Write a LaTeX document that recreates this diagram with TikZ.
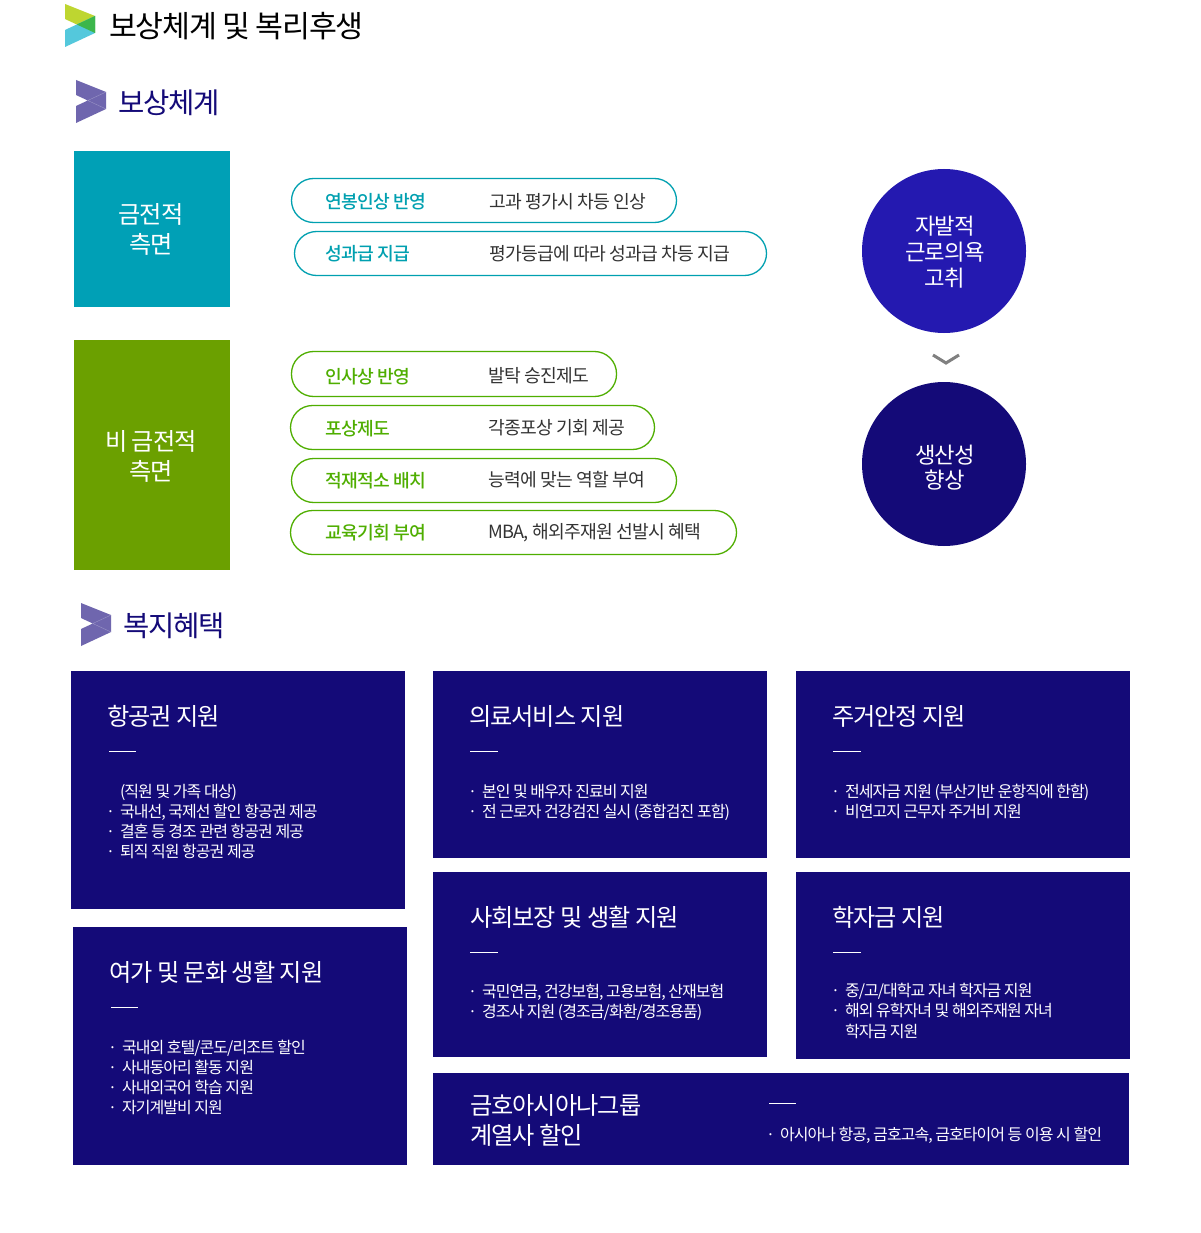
\documentclass[tikz,border=0pt]{standalone}
\usepackage{fontspec}
\newfontfamily\kr[LetterSpace=-4]{Noto Sans CJK KR}
\newfontfamily\krt[LetterSpace=-6]{Noto Sans CJK KR}
\newfontfamily\krm[LetterSpace=-4]{Noto Sans CJK KR Medium}
\definecolor{navy}{HTML}{140A78}
\definecolor{royal}{HTML}{2419B0}
\definecolor{teal}{HTML}{00A0B6}
\definecolor{leaf}{HTML}{6BA000}
\definecolor{tealtx}{HTML}{00A0B0}
\definecolor{leaftx}{HTML}{4FAE00}
\definecolor{purp}{HTML}{6F66AE}
\definecolor{dark}{HTML}{333333}
\tikzset{
  lbl/.style={inner sep=0pt,outer sep=0pt,anchor=base west},
  ctr/.style={inner sep=0pt,outer sep=0pt,anchor=base,white,font=\kr\fontsize{24.2}{24}\selectfont},
  ctrc/.style={inner sep=0pt,outer sep=0pt,anchor=base,white,font=\kr\fontsize{22.3}{22}\selectfont},
  head/.style={lbl,font=\kr\fontsize{28.6}{28}\selectfont},
  headbig/.style={lbl,font=\kr\fontsize{30.3}{30}\selectfont},
  boxtitle/.style={lbl,white,font=\kr\fontsize{24.2}{24}\selectfont},
  item/.style={lbl,white,font=\krt\fontsize{16}{16}\selectfont},
  pillkey/.style={lbl,font=\krm\fontsize{18.2}{18}\selectfont},
  pillval/.style={lbl,dark,font=\kr\fontsize{18.2}{18}\selectfont},
  pilla/.style={draw=tealtx,line width=1.3pt,fill=white,rounded corners=22pt},
  pillb/.style={draw=leaftx,line width=1.3pt,fill=white,rounded corners=22pt},
  bluebox/.style={fill=navy},
  rule/.style={draw=white,line width=1pt},
}
\newcommand{\bul}[3]{\node[item] (#1) at (#2,#3) {·};}
\begin{document}
\begin{tikzpicture}[x=1pt,y=-1pt]
\useasboundingbox (0,0) rectangle (1200,1233);
% logo
\fill[fill=white] (0,0) rectangle (1200,1233);
\fill[color={rgb,255:red,190;green,214;blue,48}] (65,4) -- (95,16) -- (95,33) -- (65,19) -- cycle;
\fill[color={rgb,255:red,84;green,200;blue,220}] (65,30) -- (95,16) -- (95,33) -- (65,47) -- cycle;
\fill[color={rgb,255:red,60;green,182;blue,75}] (76.8,24.5) -- (95,16) -- (95,33) -- cycle;
\node[headbig,black] (title) at (109,37.7) {보상체계 및 복리후생};
% section marks
\foreach \dx/\dy in {11/76,16/599}{
  \begin{scope}[shift={(\dx,\dy)}]
  \fill[purp] (65,4) -- (95,16) -- (95,33) -- (65,47) -- (65,30) -- (76.8,24.5) -- (65,19) -- cycle;
  \draw[purp!70!white,line width=.4pt] (76.8,24.5) -- (95,16) (76.8,24.5) -- (95,33);
  \end{scope}
}
\node[head,navy] (sec1) at (118,113.5) {보상체계};
\node[head,navy] (sec2) at (123,636) {복지혜택};
% side blocks
\fill[teal] (74,151) rectangle (230,307);
\fill[leaf] (74,340) rectangle (230,570);
\node[ctr] (a1) at (151,224) {금전적};
\node[ctr] (a2) at (151,254) {측면};
\node[ctr] (b1) at (151,450) {비 금전적};
\node[ctr] (b2) at (151,480.5) {측면};
% pills
\draw[pilla] (291.5,178.5) rectangle (676.5,222.5);
\draw[pilla] (294.5,231.5) rectangle (766.5,275.5);
\draw[pillb] (291.5,351.5) rectangle (616.5,396.5);
\draw[pillb] (290.5,405.5) rectangle (654.5,449.5);
\draw[pillb] (291.5,458.5) rectangle (676.5,502.5);
\draw[pillb] (290.5,510.5) rectangle (736.5,554.5);
\node[pillkey,tealtx] (k1) at (325,209) {연봉인상 반영};
\node[pillval] (v1) at (489,209) {고과 평가시 차등 인상};
\node[pillkey,tealtx] (k2) at (325,261) {성과급 지급};
\node[pillval] (v2) at (489,261) {평가등급에 따라 성과급 차등 지급};
\node[pillkey,leaftx] (k3) at (325,383) {인사상 반영};
\node[pillval] (v3) at (488,382) {발탁 승진제도};
\node[pillkey,leaftx] (k4) at (325,435) {포상제도};
\node[pillval] (v4) at (488,434) {각종포상 기회 제공};
\node[pillkey,leaftx] (k5) at (325,487) {적재적소 배치};
\node[pillval] (v5) at (488,486) {능력에 맞는 역할 부여};
\node[pillkey,leaftx] (k6) at (325,539) {교육기회 부여};
\node[pillval] (v6) at (488,538) {MBA, 해외주재원 선발시 혜택};
% circles
\fill[royal] (944,251) circle (82);
\fill[navy] (944,464) circle (82);
\node[ctrc] (c1) at (945,235) {자발적};
\node[ctrc] (c2) at (945,260) {근로의욕};
\node[ctrc] (c3) at (945,286) {고취};
\node[ctrc] (d1) at (945,463) {생산성};
\node[ctrc] (d2) at (945,488.5) {향상};
\draw[color=gray,line width=3pt] (933,355) -- (946,363) -- (959,355);
% boxes
\fill[bluebox] (71,671) rectangle (405,909);
\fill[bluebox] (73,927) rectangle (407,1165);
\fill[bluebox] (433,671) rectangle (767,858);
\fill[bluebox] (796,671) rectangle (1130,858);
\fill[bluebox] (433,872) rectangle (767,1057);
\fill[bluebox] (796,872) rectangle (1130,1059);
\fill[bluebox] (433,1073) rectangle (1129,1165);
% box 1
\node[boxtitle] (t1) at (107,725) {항공권 지원};
\draw[rule] (109,751) -- (136,751);
\node[item] (l11) at (120,797) {(직원 및 가족 대상)};
\bul{p12}{106}{817}\node[item] (l12) at (120,817) {국내선, 국제선 할인 항공권 제공};
\bul{p13}{106}{837}\node[item] (l13) at (120,837) {결혼 등 경조 관련 항공권 제공};
\bul{p14}{106}{857}\node[item] (l14) at (120,857) {퇴직 직원 항공권 제공};
% box 2
\node[boxtitle] (t2) at (109,981) {여가 및 문화 생활 지원};
\draw[rule] (111,1007) -- (138,1007);
\bul{p21}{108}{1053}\node[item] (l21) at (122,1053) {국내외 호텔/콘도/리조트 할인};
\bul{p22}{108}{1073}\node[item] (l22) at (122,1073) {사내동아리 활동 지원};
\bul{p23}{108}{1093}\node[item] (l23) at (122,1093) {사내외국어 학습 지원};
\bul{p24}{108}{1113}\node[item] (l24) at (122,1113) {자기계발비 지원};
% box 3
\node[boxtitle] (t3) at (469,725) {의료서비스 지원};
\draw[rule] (470,751) -- (498,751);
\bul{p31}{468}{797}\node[item] (l31) at (482,797) {본인 및 배우자 진료비 지원};
\bul{p32}{468}{817}\node[item] (l32) at (482,817) {전 근로자 건강검진 실시 (종합검진 포함)};
% box 4
\node[boxtitle] (t4) at (832,725) {주거안정 지원};
\draw[rule] (833,751) -- (861,751);
\bul{p41}{831}{797}\node[item] (l41) at (845,797) {전세자금 지원 (부산기반 운항직에 한함)};
\bul{p42}{831}{817}\node[item] (l42) at (845,817) {비연고지 근무자 주거비 지원};
% box 5
\node[boxtitle] (t5) at (470,926) {사회보장 및 생활 지원};
\draw[rule] (470,952) -- (498,952);
\bul{p51}{468}{997}\node[item] (l51) at (482,997) {국민연금, 건강보험, 고용보험, 산재보험};
\bul{p52}{468}{1017}\node[item] (l52) at (482,1017) {경조사 지원 (경조금/화환/경조용품)};
% box 6
\node[boxtitle] (t6) at (832,926) {학자금 지원};
\draw[rule] (833,952) -- (861,952);
\bul{p61}{831}{996}\node[item] (l61) at (845,996) {중/고/대학교 자녀 학자금 지원};
\bul{p62}{831}{1016}\node[item] (l62) at (845,1016) {해외 유학자녀 및 해외주재원 자녀};
\node[item] (l63) at (845,1037) {학자금 지원};
% box 7
\node[boxtitle] (t7) at (470,1114) {금호아시아나그룹};
\node[boxtitle] (t8) at (470,1144) {계열사 할인};
\draw[rule] (769,1103) -- (796,1103);
\bul{p71}{766}{1140}\node[item] (l71) at (780,1140) {아시아나 항공, 금호고속, 금호타이어 등 이용 시 할인};
\end{tikzpicture}
\end{document}
